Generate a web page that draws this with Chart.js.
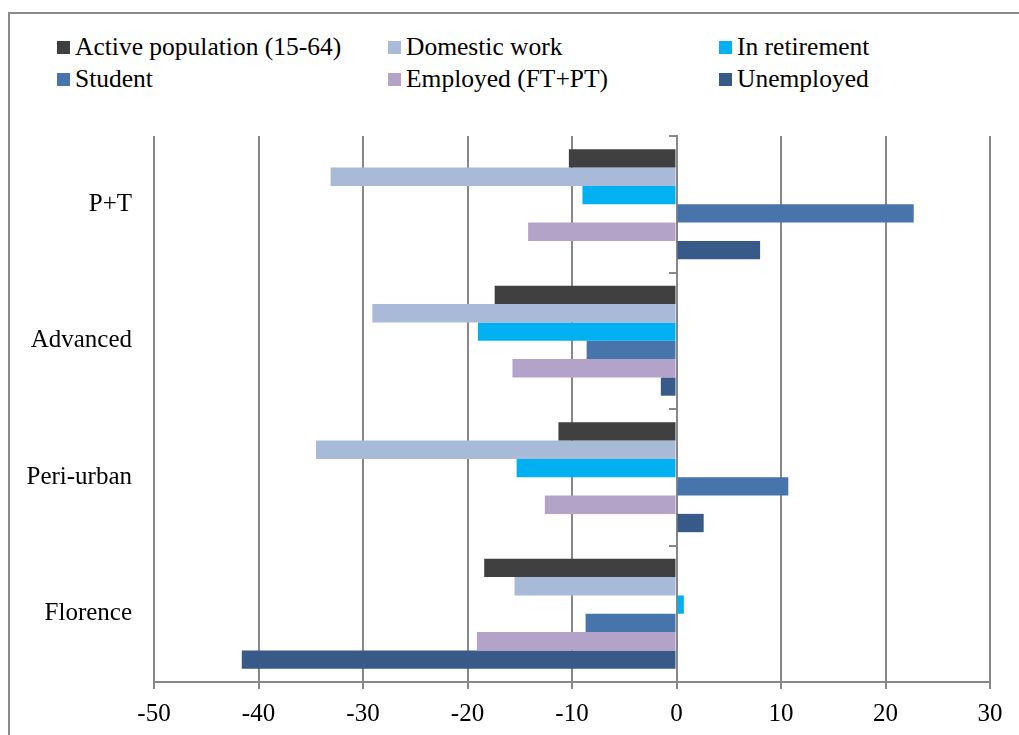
<!DOCTYPE html>
<html>
<head>
<meta charset="utf-8">
<script src="https://cdn.jsdelivr.net/npm/chart.js@4/dist/chart.umd.min.js"></script>
<style>
  html, body { margin: 0; padding: 0; background: #fff; }
  body { width: 1019px; height: 735px; position: relative; overflow: hidden; font-family: 'Liberation Serif', 'Times New Roman', serif; }
  #frame { position: absolute; left: 8px; top: 12px; width: 1100px; height: 800px;
           border-left: 2px solid #8a8a8a; border-top: 2px solid #8a8a8a; }
  #legend { position: absolute; left: 57px; top: 31px; display: grid;
            grid-template-columns: 331px 331px auto; grid-auto-rows: 32px; }
  .item { display: flex; align-items: center; font-size: 25.5px; line-height: 32px; color: #000; white-space: nowrap; }
  .swatch { width: 13px; height: 13px; margin-right: 5px; flex: none; }
  #wrap { position: absolute; left: 0; top: 0; }
</style>
</head>
<body>
<div id="frame"></div>
<div id="legend"></div>
<div id="wrap"><canvas id="chart" width="1019" height="735"></canvas></div>
<script>
// Change in share of each population group, by area (percentage points)
const categories = ['P+T', 'Advanced', 'Peri-urban', 'Florence'];

const activePopulation = [-10.3, -17.4, -11.3, -18.4];
const domesticWork     = [-33.1, -29.1, -34.5, -15.5];
const inRetirement     = [-9.0, -19.0, -15.3, 0.7];
const student          = [22.7, -8.6, 10.7, -8.7];
const employed         = [-14.2, -15.7, -12.6, -19.1];
const unemployed       = [8.0, -1.5, 2.6, -41.6];

const seriesNames = ['Active population (15-64)', 'Domestic work', 'In retirement',
                     'Student', 'Employed (FT+PT)', 'Unemployed'];
const seriesValues = [activePopulation, domesticWork, inRetirement, student, employed, unemployed];
const seriesColors = ['#404040', '#a9b9d8', '#00b0f0', '#4674ab', '#b3a3c8', '#375a88'];

const xTickMin = -50, xTickMax = 30, xTickStep = 10;

const FONT = "'Liberation Serif', 'Times New Roman', serif";
const GRID = '#888888';

const datasets = seriesNames.map((name, i) => ({
  label: name,
  data: seriesValues[i],
  backgroundColor: seriesColors[i],
  borderWidth: 0,
  categoryPercentage: 0.805,
  barPercentage: 1.0,
  yAxisID: 'y'
}));

// Legend laid out in three columns, two rows
const legendEl = document.getElementById('legend');
datasets.forEach(ds => {
  const item = document.createElement('div');
  item.className = 'item';
  const sw = document.createElement('span');
  sw.className = 'swatch';
  sw.style.background = ds.backgroundColor;
  const tx = document.createElement('span');
  tx.textContent = ds.label;
  item.appendChild(sw);
  item.appendChild(tx);
  legendEl.appendChild(item);
});

new Chart(document.getElementById('chart'), {
  type: 'bar',
  data: { labels: categories, datasets },
  options: {
    indexAxis: 'y',
    responsive: false,
    animation: false,
    layout: { padding: { left: 0, right: 29, top: 136, bottom: 0 } },
    plugins: { legend: { display: false }, tooltip: { enabled: false } },
    scales: {
      x: {
        type: 'linear',
        min: xTickMin,
        max: xTickMax,
        ticks: { stepSize: xTickStep, color: '#000', font: { family: FONT, size: 25 }, padding: 10 },
        grid: { color: GRID, lineWidth: 2, drawTicks: true, tickLength: 7 },
        border: { color: GRID, width: 2 },
        afterFit: s => { s.height = 53; }
      },
      y: {
        type: 'category',
        position: 'left',
        offset: true,
        ticks: { color: '#000', font: { family: FONT, size: 25 }, padding: 22 },
        grid: { display: false, drawTicks: false },
        border: { display: false },
        afterFit: s => { s.width = 154; }
      },
      yZero: {
        type: 'category',
        axis: 'y',
        position: { x: 0 },
        offset: true,
        z: 1,
        ticks: { display: false },
        grid: { offset: true, drawOnChartArea: false, drawTicks: true, tickLength: 7, color: GRID, lineWidth: 2 },
        border: { color: GRID, width: 2 }
      }
    }
  }
});
</script>
</body>
</html>
